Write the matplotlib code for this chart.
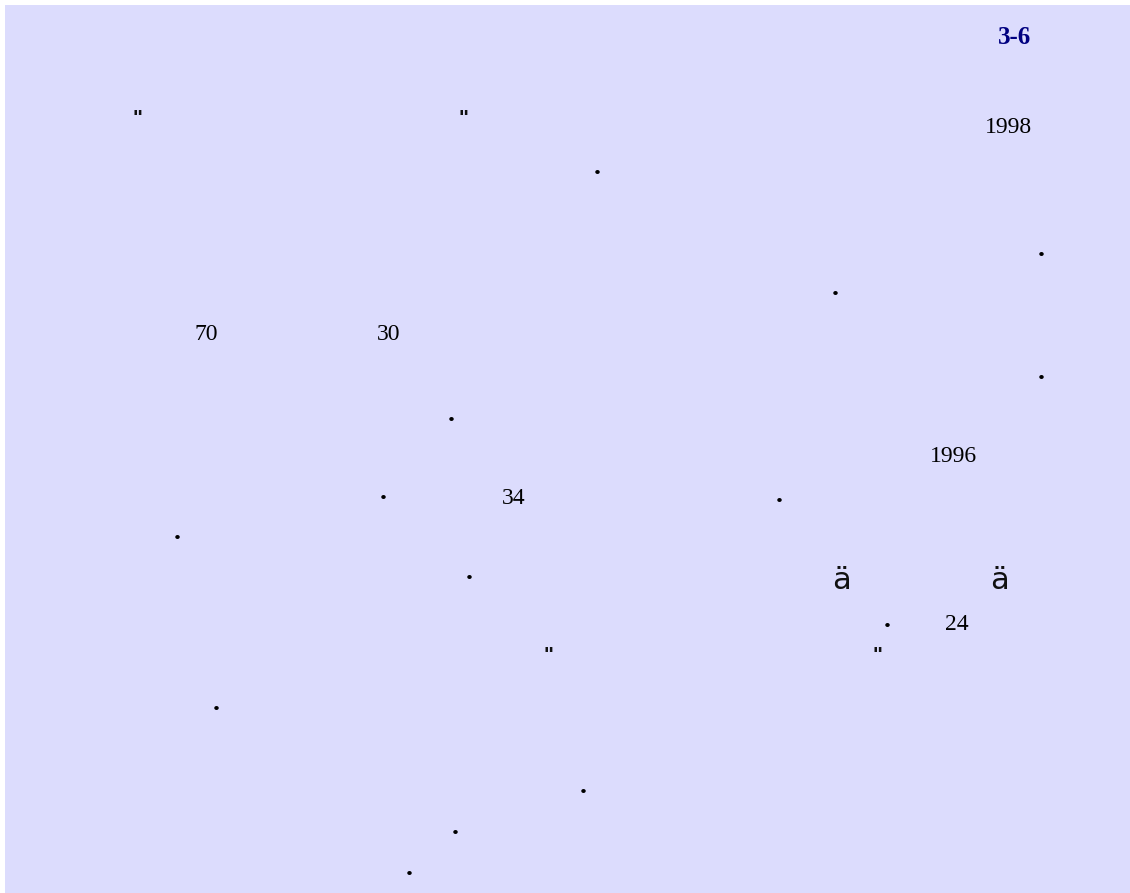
import matplotlib.pyplot as plt
from matplotlib.patches import Rectangle

# page fragments that survived rendering (pixel centres, origin top-left)
title = '3-6'
title_xy = (1015, 35)

numbers = ['1998', '70', '30', '1996', '34', '24']
numbers_x = [1008, 206, 389, 953, 514, 957]
numbers_y = [125, 332, 332, 454, 496, 622]

periods_x = [597, 1041, 835, 1041, 451, 383, 779, 177, 469, 887, 216, 583, 455, 409]
periods_y = [172, 254, 293, 377, 419, 497, 500, 537, 577, 625, 708, 791, 832, 873]

quotes_x = [137, 463, 548, 877]
quotes_y = [111, 111, 648, 648]

umlaut_x = [841, 999]
umlaut_y = [577, 577]

W, H = 1130, 893

fig = plt.figure(figsize=(W / 100, H / 100), dpi=100, facecolor='white')
ax = fig.add_axes([0, 0, 1, 1])
ax.set_xlim(0, W)
ax.set_ylim(H, 0)
ax.axis('off')

# lavender page, small white margin top/left
ax.add_patch(Rectangle((5, 5), W - 5, H - 5, facecolor='#dcdcfd', edgecolor='none', zorder=0))

serif = 'Liberation Serif'

ax.text(title_xy[0], title_xy[1] + 9, title, ha='center', va='baseline',
        fontsize=18, fontweight='bold', color='#000080', family=serif)

for s, x, y in zip(numbers, numbers_x, numbers_y):
    ax.text(x, y + 8, s, ha='center', va='baseline', fontsize=17, color='black', family=serif)

# the full stops are a bit heavier than plain Times ones
for x, y in zip(periods_x, periods_y):
    ax.text(x, y + 2, '.', ha='center', va='baseline', fontsize=20,
            fontweight='bold', color='black', family=serif)

for x, y in zip(quotes_x, quotes_y):
    ax.text(x, y + 13, '"', ha='center', va='baseline', fontsize=15,
            fontweight='bold', color='#111111', family='Liberation Sans')

for x, y in zip(umlaut_x, umlaut_y):
    ax.text(x, y + 12, 'ä', ha='center', va='baseline', fontsize=22, color='#111111', family='DejaVu Sans')

fig.savefig('out.png', dpi=100, facecolor=fig.get_facecolor())
